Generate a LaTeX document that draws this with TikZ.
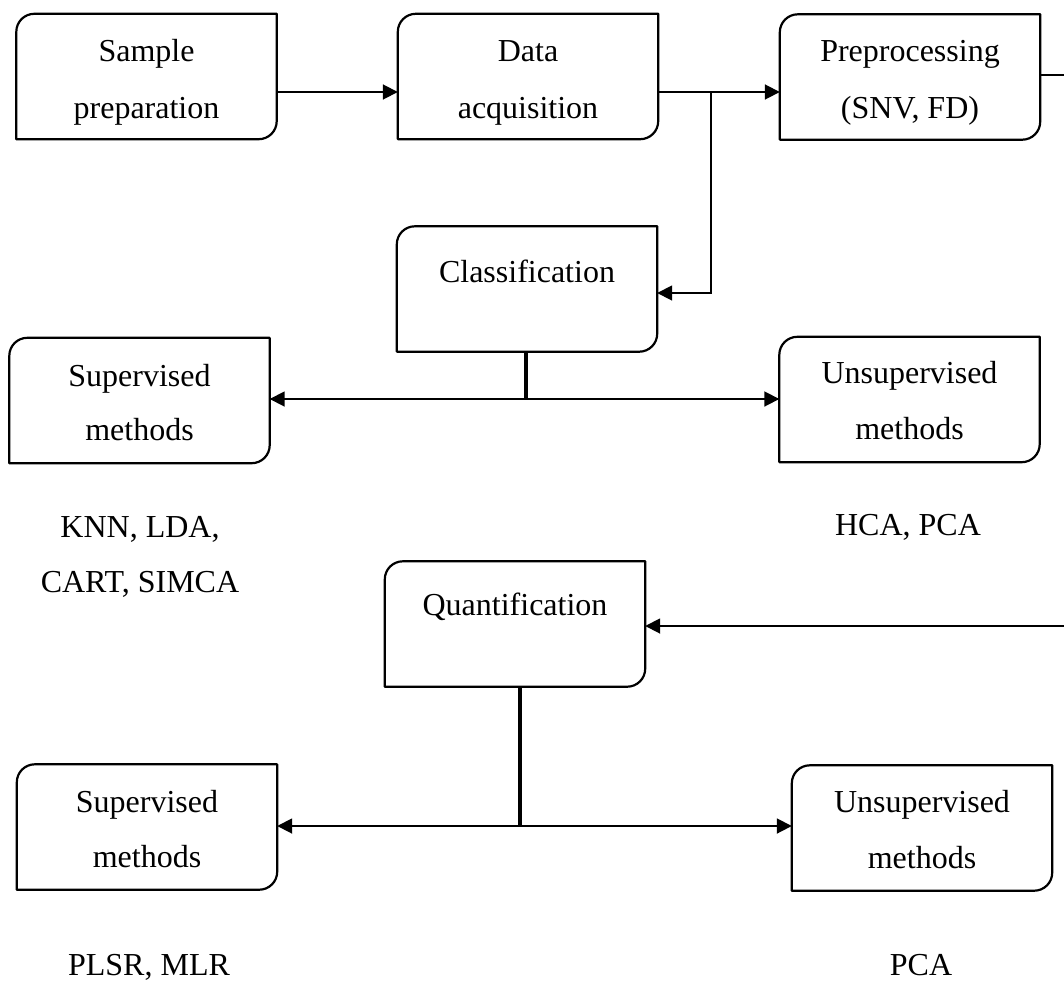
\documentclass[tikz,border=0pt]{standalone}
\usepackage{fontspec}
\setmainfont{Liberation Serif}
\usetikzlibrary{arrows.meta}
\newcommand\myrbox[1]{\draw[boxline] (#1.south west) -- ([yshift=-18pt]#1.north west) arc[start angle=180,end angle=90,radius=18pt] -- (#1.north east) -- ([yshift=18pt]#1.south east) arc[start angle=0,end angle=-90,radius=18pt] -- cycle;}
\begin{document}
\begin{tikzpicture}[x=1pt,y=-1pt,
  bx/.style={shape=rectangle,inner sep=0pt,minimum width=260pt,minimum height=125pt},
  boxline/.style={line width=2.2pt,line join=round},
  lbl/.style={inner sep=0pt,anchor=base,font=\fontsize{32}{40}\selectfont},
  arr/.style={line width=1.8pt,-{Triangle[length=15pt,width=15pt]}},
  arrb/.style={line width=1.8pt,{Triangle[length=15pt,width=15pt]}-{Triangle[length=15pt,width=15pt]}},
  plain/.style={line width=1.8pt},
  stem/.style={line width=3.5pt}]
\useasboundingbox (0,0) rectangle (1064,982);
% boxes
\node[bx] (sp) at (146.5,76.5) {};
\node[bx] (da) at (528,76.5) {};
\node[bx] (pp) at (910,77) {};
\node[bx] (cl) at (527,289) {};
\node[bx] (su1) at (139.5,400.5) {};
\node[bx] (un1) at (909.5,399.5) {};
\node[bx] (qu) at (515,624) {};
\node[bx] (su2) at (147,827) {};
\node[bx] (un2) at (922,828) {};
\foreach \b in {sp,da,pp,cl,su1,un1,qu,su2,un2}{\myrbox{\b}}
% texts
\node[lbl] (t1a) at (146.5,62) {Sample};
\node[lbl] (t1b) at (146.5,118) {preparation};
\node[lbl] (t2a) at (528,62) {Data};
\node[lbl] (t2b) at (528,118) {acquisition};
\node[lbl] (t3a) at (910,62) {Preprocessing};
\node[lbl] (t3b) at (910,118) {(SNV, FD)};
\node[lbl] (t4) at (527,282) {Classification};
\node[lbl] (t5a) at (139.5,386) {Supervised};
\node[lbl] (t5b) at (139.5,440) {methods};
\node[lbl] (t6a) at (909.5,383) {Unsupervised};
\node[lbl] (t6b) at (909.5,439) {methods};
\node[lbl] (t7) at (515,615) {Quantification};
\node[lbl] (t8a) at (147,812) {Supervised};
\node[lbl] (t8b) at (147,867) {methods};
\node[lbl] (t9a) at (922,812) {Unsupervised};
\node[lbl] (t9b) at (922,868) {methods};
\node[lbl] (k1) at (140,537) {KNN, LDA,};
\node[lbl] (k2) at (140,592) {CART, SIMCA};
\node[lbl] (h1) at (908,535) {HCA, PCA};
\node[lbl] (p1) at (149,975) {PLSR, MLR};
\node[lbl] (p2) at (921,975) {PCA};
% connectors
\coordinate (rt1) at (1064,75);
\coordinate (rt2) at (1064,626);
\coordinate (cj) at (526,399);
\coordinate (qj) at (520,826);
\draw[arr] ([yshift=-15.5pt]sp.east) -- ([yshift=-15.5pt]da.west);
\draw[arr] ([yshift=-15.5pt]da.east) -- ([yshift=-15pt]pp.west);
\draw[arr] ([xshift=53pt,yshift=-15.5pt]da.east) |- ([yshift=-4pt]cl.east);
\draw[plain] ([yshift=2pt]pp.east) -- (rt1);
\draw[stem] (cj |- cl.south) -- (cj);
\draw[arr] (cj) -- (su1.east |- cj);
\draw[arr] (cj) -- (un1.west |- cj);
\draw[arr] (rt2) -- (qu.east |- rt2);
\draw[stem] (qj |- qu.south) -- (qj);
\draw[arr] (qj) -- (su2.east |- qj);
\draw[arr] (qj) -- (un2.west |- qj);
\end{tikzpicture}
\end{document}
